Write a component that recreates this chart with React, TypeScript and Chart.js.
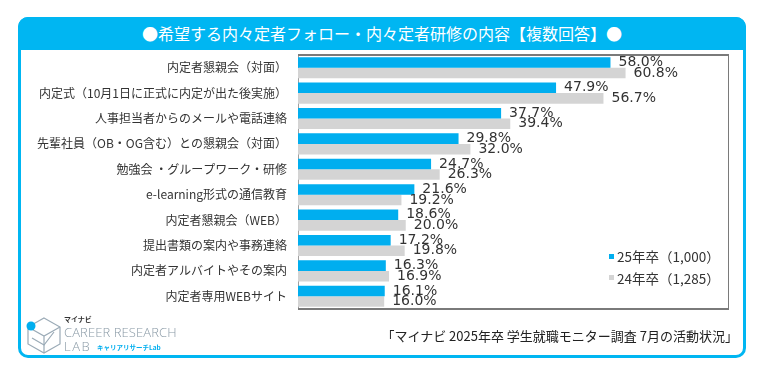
import React, { useEffect, useRef } from "react";
import { Chart, registerables } from "chart.js";

Chart.register(...registerables);

const categories = [
  "内定者懇親会（対面）",
  "内定式（10月1日に正式に内定が出た後実施）",
  "人事担当者からのメールや電話連絡",
  "先輩社員（OB・OG含む）との懇親会（対面）",
  "勉強会 ・グループワーク・研修",
  "e-learning形式の通信教育",
  "内定者懇親会（WEB）",
  "提出書類の案内や事務連絡",
  "内定者アルバイトやその案内",
  "内定者専用WEBサイト",
];
const series25 = [58.0, 47.9, 37.7, 29.8, 24.7, 21.6, 18.6, 17.2, 16.3, 16.1];
const series24 = [60.8, 56.7, 39.4, 32.0, 26.3, 19.2, 20.0, 19.8, 16.9, 16.0];
const seriesNames = ["25年卒（1,000）", "24年卒（1,285）"];
const seriesColors = ["#00aeef", "#d4d4d4"];
const titleText = "●希望する内々定者フォロー・内々定者研修の内容【複数回答】●";
const sourceText = "「マイナビ 2025年卒 学生就職モニター調査 7月の活動状況」";

const BLUE = "#00b6f2";

const valueLabels = {
  id: "valueLabels",
  afterDatasetsDraw(chart: any) {
    const ctx = chart.ctx;
    ctx.save();
    ctx.font = '14px "DejaVu Sans", sans-serif';
    ctx.fillStyle = "#333333";
    ctx.textBaseline = "middle";
    ctx.textAlign = "left";
    chart.data.datasets.forEach((ds: any, di: number) => {
      const meta = chart.getDatasetMeta(di);
      meta.data.forEach((bar: any, i: number) => {
        ctx.fillText(ds.data[i].toFixed(1) + "%", bar.x + 8, bar.y);
      });
    });
    ctx.restore();
  },
};

const areaBorder = {
  id: "areaBorder",
  beforeDatasetsDraw(chart: any) {
    const { left, right, top, bottom } = chart.chartArea;
    const ctx = chart.ctx;
    ctx.save();
    ctx.strokeStyle = "#a0a0a0";
    ctx.lineWidth = 1;
    ctx.strokeRect(left + 0.5, top + 0.5, right - left - 1, bottom - top - 1);
    ctx.strokeStyle = "#7a7a7a";
    ctx.lineWidth = 2;
    ctx.beginPath();
    ctx.moveTo(left, top);
    ctx.lineTo(right, top);
    ctx.moveTo(left, bottom);
    ctx.lineTo(right, bottom);
    ctx.stroke();
    ctx.lineWidth = 1;
    ctx.beginPath();
    ctx.moveTo(right - 0.5, top);
    ctx.lineTo(right - 0.5, bottom);
    ctx.stroke();
    ctx.restore();
  },
};

export default function App() {
  const ref = useRef<HTMLCanvasElement>(null);
  useEffect(() => {
    if (!ref.current) return;
    const chart = new Chart(ref.current, {
      type: "bar",
      data: {
        labels: categories,
        datasets: [
          {
            label: seriesNames[0],
            data: series25,
            backgroundColor: seriesColors[0],
            categoryPercentage: 0.83,
            barPercentage: 1.0,
          },
          {
            label: seriesNames[1],
            data: series24,
            backgroundColor: seriesColors[1],
            categoryPercentage: 0.83,
            barPercentage: 1.0,
          },
        ],
      },
      options: {
        indexAxis: "y",
        animation: false,
        responsive: false,
        maintainAspectRatio: false,
        layout: { padding: { left: 0, right: 37, top: 55, bottom: 64 } },
        plugins: { legend: { display: false }, tooltip: { enabled: false } },
        scales: {
          x: { display: false, min: 0, max: 80 },
          y: {
            grid: { display: false, drawTicks: false },
            border: { display: false },
            ticks: {
              padding: 11,
              color: "#333333",
              font: { family: '"Noto Sans CJK JP", sans-serif', size: 12 },
            },
            afterFit(scale: any) {
              scale.width = 298;
            },
          },
        },
      },
      plugins: [areaBorder, valueLabels],
    });
    return () => chart.destroy();
  }, []);

  const jp = '"Noto Sans CJK JP", sans-serif';
  return (
    <div style={{ position: "fixed", left: 0, top: 0, width: 766, height: 373, background: "#fff", overflow: "hidden" }}>
      <div
        style={{
          position: "absolute",
          left: 18,
          top: 17,
          width: 728,
          height: 341,
          boxSizing: "border-box",
          border: `3px solid ${BLUE}`,
          borderRadius: 10,
        }}
      />
      <div
        style={{
          position: "absolute",
          left: 18,
          top: 17,
          width: 728,
          height: 33,
          background: BLUE,
          borderRadius: "10px 10px 0 0",
          color: "#fff",
          fontFamily: jp,
          fontSize: 16,
          lineHeight: "33px",
          textAlign: "center",
          whiteSpace: "nowrap",
        }}
      >
        {titleText}
      </div>
      <canvas ref={ref} width={766} height={373} style={{ position: "absolute", left: 0, top: 0 }} />
      {seriesNames.map((n, i) => (
        <div
          key={n}
          style={{
            position: "absolute",
            left: 609,
            top: 246 + i * 21.5,
            height: 20,
            display: "flex",
            alignItems: "center",
            fontFamily: jp,
            fontSize: 13.5,
            color: "#333",
            whiteSpace: "nowrap",
          }}
        >
          <span style={{ display: "inline-block", width: 5, height: 5, background: seriesColors[i], marginRight: 3 }} />
          {n}
        </div>
      ))}
      <div
        style={{
          position: "absolute",
          right: 766 - 738,
          top: 327,
          fontFamily: jp,
          fontSize: 13,
          color: "#222",
          whiteSpace: "nowrap",
          lineHeight: "18px",
        }}
      >
        {sourceText}
      </div>
      {/* logo */}
      <svg style={{ position: "absolute", left: 24, top: 316 }} width={40} height={38} viewBox="0 0 40 38">
        <g fill="none" stroke="#9aaab6" strokeWidth={1.2}>
          <path d="M20 2 L36 11 L36 28 L20 37 L4 28 L4 11 Z" />
          <path d="M4 11 L20 20 L36 11 M20 20 L20 37" />
          <path d="M8 22 L20 29 L30 16" />
        </g>
        <circle cx={7} cy={10} r={4.5} fill="#00aeef" />
      </svg>
      <div style={{ position: "absolute", left: 64, top: 314, fontFamily: jp, fontSize: 7, fontWeight: 700, color: "#333", whiteSpace: "nowrap" }}>
        マイナビ
      </div>
      <div style={{ position: "absolute", left: 64, top: 324, fontFamily: '"Open Sans", sans-serif', fontSize: 13, fontWeight: 300, color: "#8a9aa6", letterSpacing: 0.1, whiteSpace: "nowrap", lineHeight: "16px" }}>
        CAREER RESEARCH
      </div>
      <div style={{ position: "absolute", left: 64, top: 338, fontFamily: '"Open Sans", sans-serif', fontSize: 13, fontWeight: 300, color: "#8a9aa6", letterSpacing: 1.5, whiteSpace: "nowrap", lineHeight: "16px" }}>
        LAB
      </div>
      <div style={{ position: "absolute", left: 97, top: 342, fontFamily: jp, fontSize: 6.5, fontWeight: 700, color: "#00aeef", whiteSpace: "nowrap", lineHeight: "10px" }}>
        キャリアリサーチLab
      </div>
    </div>
  );
}
